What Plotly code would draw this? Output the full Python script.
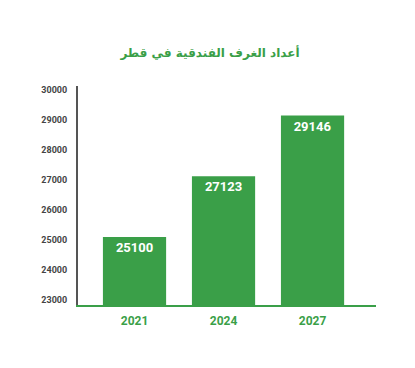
import plotly.graph_objects as go

years = ["2021", "2024", "2027"]
rooms = [25100, 27123, 29146]
y_ticks = [23000, 24000, 25000, 26000, 27000, 28000, 29000, 30000]
title = "أعداد الغرف الفندقية في قطر"

green = "#3a9f48"
x_pos = list(range(len(years)))

fig = go.Figure(go.Bar(
    x=x_pos, y=rooms, width=0.71,
    marker=dict(color=green, line=dict(width=0)),
    text=[str(v) for v in rooms],
    textposition="inside", insidetextanchor="end",
    textfont=dict(family="Roboto", size=13, color="white", weight="bold"),
    textangle=0,
    cliponaxis=False,
))

fig.update_layout(
    width=415, height=368,
    margin=dict(l=78, r=39, t=86, b=63),
    paper_bgcolor="white", plot_bgcolor="white",
    showlegend=False,
    title=dict(text=title, x=0.506, xanchor="center", y=1 - 53/368, yanchor="middle",
               font=dict(family="DejaVu Sans", size=12, color=green, weight="bold")),
    xaxis=dict(
        range=[-0.635, 2.713], tickvals=x_pos, ticktext=years,
        showgrid=False, zeroline=False,
        showline=True, linecolor=green, linewidth=2,
        ticks="outside", ticklen=4, tickcolor="rgba(0,0,0,0)",
        tickfont=dict(family="Roboto", size=12, color=green, weight="bold"),
    ),
    yaxis=dict(
        range=[22833, 30133], tickvals=y_ticks,
        showgrid=False, zeroline=False,
        showline=True, linecolor="#555555", linewidth=2,
        ticks="outside", ticklen=7, tickcolor="rgba(0,0,0,0)",
        tickfont=dict(family="Roboto", size=9, color="#444444", weight="bold"),
        tickformat="d",
    ),
)

fig.write_html("out.html", config={"displayModeBar": False},
               post_script="document.body.style.margin='0';")
